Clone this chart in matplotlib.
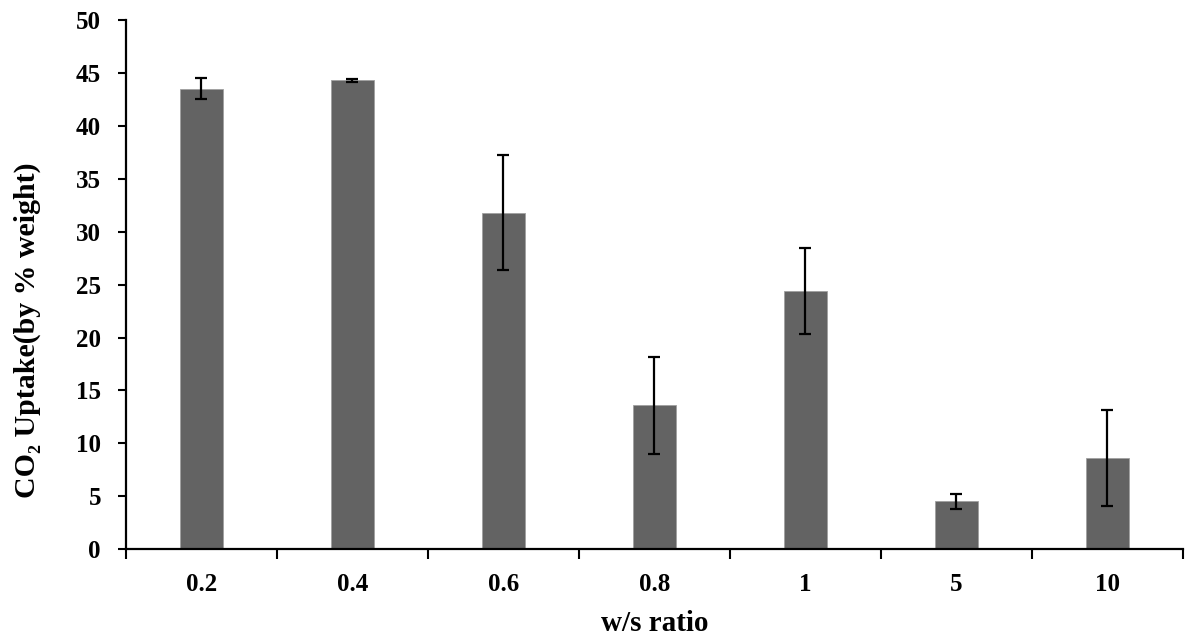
import numpy as np
import matplotlib
matplotlib.use("Agg")
import matplotlib.pyplot as plt

# data
ratios = ["0.2", "0.4", "0.6", "0.8", "1", "5", "10"]
uptake = [43.5, 44.3, 31.8, 13.6, 24.4, 4.55, 8.6]
err = [1.0, 0.15, 5.45, 4.6, 4.05, 0.7, 4.55]

plt.rcParams['font.family'] = ['Liberation Serif', 'DejaVu Serif']
plt.rcParams['font.weight'] = 'bold'

fig = plt.figure(figsize=(11.95, 6.39), dpi=100)
ax = fig.add_axes([0.1054, 0.1404, 0.8845, 0.8283])

x = np.arange(len(ratios))
ax.bar(x, uptake, width=0.285, color='#636363', edgecolor='#a0a0a0', linewidth=0.6, zorder=2)
ax.errorbar(x, uptake, yerr=err, fmt='none', ecolor='black', elinewidth=1.6,
            capsize=4.3, capthick=1.6, zorder=3)

ax.set_xlim(-0.5, len(ratios) - 0.5)
ax.set_ylim(0, 50)
ax.set_yticks(range(0, 51, 5))

# category labels in the middle, tick marks on the boundaries
ax.set_xticks(x)
ax.set_xticklabels(ratios)
ax.set_xticks(np.arange(-0.5, len(ratios), 1), minor=True)
ax.tick_params(axis='x', which='major', length=0, pad=17, labelsize=18)
ax.tick_params(axis='x', which='minor', length=7, width=1.5, direction='out')
ax.tick_params(axis='y', length=6, width=1.5, direction='out', labelsize=18, pad=12)

for s in ['top', 'right']:
    ax.spines[s].set_visible(False)
for s in ['left', 'bottom']:
    ax.spines[s].set_linewidth(1.6)

ax.set_xlabel('w/s ratio', fontsize=21, fontweight='bold')
ax.set_ylabel('CO₂ Uptake(by % weight)', fontsize=21.5, fontweight='bold')
ax.xaxis.set_label_coords(0.5, -0.14)
ax.yaxis.set_label_coords(-0.0932, 0.414)
ax.xaxis.label.set_va('center')
ax.yaxis.label.set_va('center')

fig.savefig('out.png', dpi=100)
